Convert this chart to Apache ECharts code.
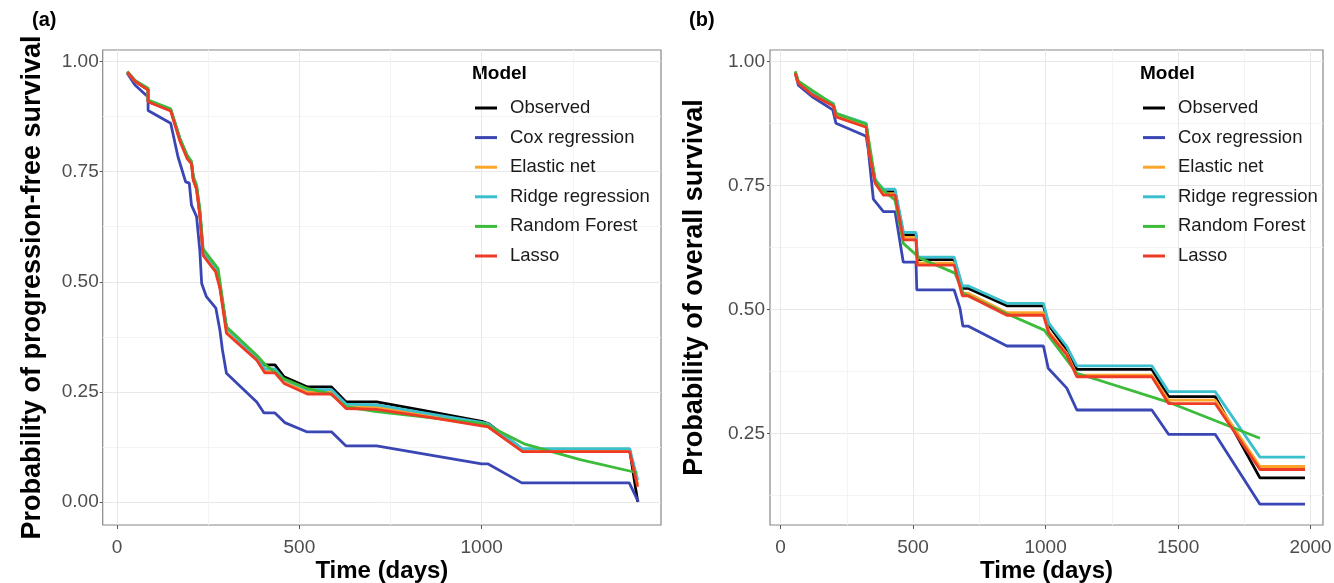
<!DOCTYPE html>
<html>
<head>
<meta charset="utf-8">
<script src="https://cdn.jsdelivr.net/npm/echarts@6/dist/echarts.min.js"></script>
<style>
html,body{margin:0;padding:0;background:#fff;}
#chart{width:1334px;height:583px;}
</style>
</head>
<body>
<div id="chart"></div>
<script>
// ---------- DATA ----------
const models = ['Observed', 'Cox regression', 'Elastic net', 'Ridge regression', 'Random Forest', 'Lasso'];

// Panel (a): progression-free survival
const pfsTime = [28, 50, 85, 85, 147, 172, 192, 204, 209, 218, 227, 236, 254, 270, 282, 300, 383, 405, 433, 458, 522, 588, 628, 712, 858, 1004, 1018, 1112, 1406, 1428];
const pfsObserved = [0.976, 0.955, 0.936, 0.909, 0.890, 0.825, 0.785, 0.770, 0.735, 0.712, 0.655, 0.565, 0.545, 0.530, 0.490, 0.395, 0.325, 0.311, 0.311, 0.284, 0.261, 0.261, 0.227, 0.227, 0.205, 0.182, 0.178, 0.119, 0.119, 0.000];
const pfsElastic  = [0.976, 0.955, 0.937, 0.910, 0.890, 0.823, 0.783, 0.770, 0.733, 0.712, 0.655, 0.563, 0.545, 0.528, 0.490, 0.390, 0.323, 0.298, 0.298, 0.274, 0.250, 0.250, 0.217, 0.215, 0.197, 0.177, 0.173, 0.117, 0.117, 0.040];
const pfsRidge    = [0.977, 0.957, 0.938, 0.912, 0.892, 0.826, 0.786, 0.772, 0.736, 0.715, 0.660, 0.568, 0.550, 0.533, 0.494, 0.395, 0.327, 0.302, 0.302, 0.278, 0.255, 0.255, 0.222, 0.220, 0.200, 0.180, 0.177, 0.121, 0.121, 0.050];
const pfsLasso    = [0.976, 0.955, 0.936, 0.909, 0.888, 0.820, 0.780, 0.768, 0.730, 0.710, 0.650, 0.560, 0.540, 0.523, 0.485, 0.383, 0.322, 0.293, 0.293, 0.269, 0.245, 0.245, 0.212, 0.210, 0.192, 0.172, 0.170, 0.114, 0.114, 0.034];
const pfsCoxTime = [28, 49, 85, 85, 147, 167, 188, 198, 204, 218, 227, 232, 245, 271, 282, 289, 300, 383, 403, 433, 460, 520, 588, 628, 712, 1000, 1018, 1110, 1405, 1430];
const pfsCox     = [0.974, 0.947, 0.920, 0.889, 0.860, 0.784, 0.727, 0.724, 0.674, 0.648, 0.570, 0.496, 0.466, 0.440, 0.390, 0.345, 0.292, 0.227, 0.202, 0.202, 0.180, 0.159, 0.159, 0.127, 0.127, 0.086, 0.086, 0.043, 0.043, 0.000];
const pfsRfTime = [28, 50, 85, 85, 147, 172, 192, 204, 209, 218, 227, 236, 254, 277, 300, 383, 407, 456, 520, 584, 628, 712, 1009, 1119, 1270, 1427];
const pfsRf     = [0.978, 0.957, 0.940, 0.913, 0.893, 0.826, 0.788, 0.773, 0.740, 0.720, 0.665, 0.575, 0.555, 0.530, 0.398, 0.333, 0.311, 0.280, 0.258, 0.246, 0.216, 0.205, 0.177, 0.131, 0.096, 0.066];

// Panel (b): overall survival
const osTime = [55, 67, 118, 199, 209, 323, 335, 357, 388, 432, 464, 511, 516, 655, 686, 709, 854, 992, 1012, 1080, 1118, 1401, 1464, 1640, 1809, 1979];
const osObserved = [0.978, 0.958, 0.935, 0.912, 0.892, 0.872, 0.820, 0.757, 0.737, 0.737, 0.650, 0.650, 0.600, 0.600, 0.542, 0.542, 0.507, 0.507, 0.468, 0.418, 0.379, 0.379, 0.324, 0.324, 0.160, 0.160];
const osElastic  = [0.976, 0.957, 0.934, 0.911, 0.890, 0.869, 0.815, 0.755, 0.733, 0.733, 0.645, 0.645, 0.593, 0.593, 0.532, 0.532, 0.493, 0.493, 0.455, 0.411, 0.367, 0.367, 0.317, 0.317, 0.183, 0.183];
const osRidge    = [0.978, 0.960, 0.937, 0.915, 0.895, 0.875, 0.823, 0.762, 0.742, 0.742, 0.655, 0.655, 0.605, 0.605, 0.547, 0.547, 0.512, 0.512, 0.472, 0.425, 0.386, 0.386, 0.334, 0.334, 0.202, 0.202];
const osLasso    = [0.976, 0.956, 0.933, 0.910, 0.888, 0.867, 0.813, 0.754, 0.730, 0.730, 0.640, 0.640, 0.589, 0.589, 0.527, 0.527, 0.488, 0.488, 0.452, 0.408, 0.364, 0.364, 0.310, 0.310, 0.177, 0.177];
const osCoxTime = [55, 67, 118, 197, 209, 323, 331, 350, 388, 432, 463, 511, 514, 655, 677, 688, 709, 854, 992, 1010, 1080, 1118, 1401, 1464, 1640, 1809, 1979];
const osCox     = [0.976, 0.952, 0.929, 0.902, 0.875, 0.849, 0.821, 0.722, 0.697, 0.697, 0.595, 0.595, 0.539, 0.539, 0.502, 0.466, 0.466, 0.426, 0.426, 0.381, 0.341, 0.297, 0.297, 0.248, 0.248, 0.107, 0.107];
const osRfTime = [55, 67, 199, 209, 323, 357, 388, 432, 463, 526, 658, 690, 854, 995, 1118, 1457, 1809];
const osRf     = [0.980, 0.960, 0.913, 0.895, 0.873, 0.760, 0.740, 0.720, 0.633, 0.603, 0.573, 0.532, 0.491, 0.458, 0.371, 0.314, 0.240];

// Tick labels
const pfsXTicks = [0, 500, 1000];
const pfsXMinor = [250, 750, 1250];
const osXTicks = [0, 500, 1000, 1500, 2000];
const osXMinor = [250, 750, 1250, 1750];
const yTicksA = [0, 0.25, 0.5, 0.75, 1];
const yTicksB = [0.25, 0.5, 0.75, 1];
const yMinor = [0.125, 0.375, 0.625, 0.875];

// ---------- STYLE ----------
const colors = {
  'Observed': '#000000',
  'Cox regression': '#3A46B3',
  'Elastic net': '#FBA52A',
  'Ridge regression': '#3CC0CE',
  'Random Forest': '#3DBB3A',
  'Lasso': '#EE3B26'
};
const FONT = '"Liberation Sans", Arial, Helvetica, sans-serif';

function pairs(t, v) { return t.map((x, i) => [x, v[i]]); }

const panelSeries = [
  { grid: 0, data: {
      'Observed': pairs(pfsTime, pfsObserved),
      'Cox regression': pairs(pfsCoxTime, pfsCox),
      'Elastic net': pairs(pfsTime, pfsElastic),
      'Ridge regression': pairs(pfsTime, pfsRidge),
      'Random Forest': pairs(pfsRfTime, pfsRf),
      'Lasso': pairs(pfsTime, pfsLasso) } },
  { grid: 1, data: {
      'Observed': pairs(osTime, osObserved),
      'Cox regression': pairs(osCoxTime, osCox),
      'Elastic net': pairs(osTime, osElastic),
      'Ridge regression': pairs(osTime, osRidge),
      'Random Forest': pairs(osRfTime, osRf),
      'Lasso': pairs(osTime, osLasso) } }
];

const series = [];
panelSeries.forEach(p => {
  models.forEach(m => {
    series.push({
      name: m, type: 'line', xAxisIndex: p.grid, yAxisIndex: p.grid,
      data: p.data[m], showSymbol: false, symbol: 'none', smooth: false,
      lineStyle: { color: colors[m], width: 2.8 }, itemStyle: { color: colors[m] },
      z: 3
    });
  });
});

function mainX(gridIndex, min, max, ticks) {
  return {
    type: 'value', gridIndex, min, max, position: 'bottom',
    axisLine: { show: false, onZero: false },
    axisTick: { show: true, length: 4, lineStyle: { color: '#555', width: 1 }, customValues: ticks },
    axisLabel: { customValues: ticks, color: '#4d4d4d', fontSize: 19, fontFamily: FONT, margin: 13,
                 formatter: v => String(v) },
    splitLine: { show: true, lineStyle: { color: '#e8e8e8', width: 1 } },
    name: 'Time (days)', nameLocation: 'middle', nameGap: 33, nameMoveOverlap: false,
    nameTextStyle: { color: '#000', fontSize: 24, fontWeight: 'bold', fontFamily: FONT,
                     verticalAlign: 'top', lineHeight: 26 }
  };
}
function minorX(gridIndex, min, max, ticks) {
  return {
    type: 'value', gridIndex, min, max, position: 'bottom',
    axisLine: { show: false, onZero: false }, axisTick: { show: false, customValues: ticks },
    axisLabel: { show: false, customValues: ticks },
    splitLine: { show: true, lineStyle: { color: '#f3f3f3', width: 1 } }
  };
}
function mainY(gridIndex, min, max, ticks, title, gap, margin) {
  return {
    type: 'value', gridIndex, min, max, position: 'left',
    axisLine: { show: false, onZero: false },
    axisTick: { show: true, length: 3, lineStyle: { color: '#555', width: 1 }, customValues: ticks },
    axisLabel: { customValues: ticks, color: '#4d4d4d', fontSize: 19, fontFamily: FONT, margin,
                 formatter: v => Number(v).toFixed(2) },
    splitLine: { show: true, lineStyle: { color: '#e8e8e8', width: 1 } },
    name: title, nameLocation: 'middle', nameGap: gap,
    nameTextStyle: { color: '#000', fontSize: 27, fontWeight: 'bold', fontFamily: FONT }
  };
}
function minorY(gridIndex, min, max, ticks) {
  return {
    type: 'value', gridIndex, min, max, position: 'left',
    axisLine: { show: false, onZero: false }, axisTick: { show: false, customValues: ticks },
    axisLabel: { show: false, customValues: ticks },
    splitLine: { show: true, lineStyle: { color: '#f3f3f3', width: 1 } }
  };
}

function legend(left, top) {
  return {
    orient: 'vertical', left, top, data: models, padding: 0,
    icon: 'rect', itemWidth: 22, itemHeight: 3, itemGap: 7.6,
    selectedMode: false,
    textStyle: { color: '#1a1a1a', fontSize: 18.5, fontFamily: FONT, lineHeight: 22, padding: [0, 0, 0, 8] }
  };
}

const option = {
  animation: false,
  backgroundColor: '#ffffff',
  color: models.map(m => colors[m]),
  grid: [
    { left: 102.7, top: 50, width: 558.3, height: 475, containLabel: false, outerBoundsMode: 'none',
      show: true, borderColor: '#888', borderWidth: 1.2, backgroundColor: 'transparent' },
    { left: 770, top: 50, width: 553, height: 475, containLabel: false, outerBoundsMode: 'none',
      show: true, borderColor: '#888', borderWidth: 1.2, backgroundColor: 'transparent' }
  ],
  xAxis: [
    mainX(0, -39.5, 1492, pfsXTicks),
    mainX(1, -40, 2047, osXTicks),
    minorX(0, -39.5, 1492, pfsXMinor),
    minorX(1, -40, 2047, osXMinor)
  ],
  yAxis: [
    mainY(0, -0.0527, 1.0266, yTicksA, 'Probability of progression-free survival', 57, 4),
    mainY(1, 0.0651, 1.0228, yTicksB, 'Probability of overall survival', 62, 5),
    minorY(0, -0.0527, 1.0266, yMinor),
    minorY(1, 0.0651, 1.0228, yMinor)
  ],
  legend: [legend(475, 97), legend(1143, 97)],
  graphic: [
    { type: 'text', left: 32, top: 10, style: { text: '(a)', font: 'bold 20px ' + FONT, fill: '#000' } },
    { type: 'text', left: 689, top: 10, style: { text: '(b)', font: 'bold 20px ' + FONT, fill: '#000' } },
    { type: 'text', left: 472, top: 64, style: { text: 'Model', font: 'bold 19px ' + FONT, fill: '#000' } },
    { type: 'text', left: 1140, top: 64, style: { text: 'Model', font: 'bold 19px ' + FONT, fill: '#000' } }
  ],
  series
};

const chart = echarts.init(document.getElementById('chart'), null, { renderer: 'canvas' });
chart.setOption(option);
</script>
</body>
</html>
